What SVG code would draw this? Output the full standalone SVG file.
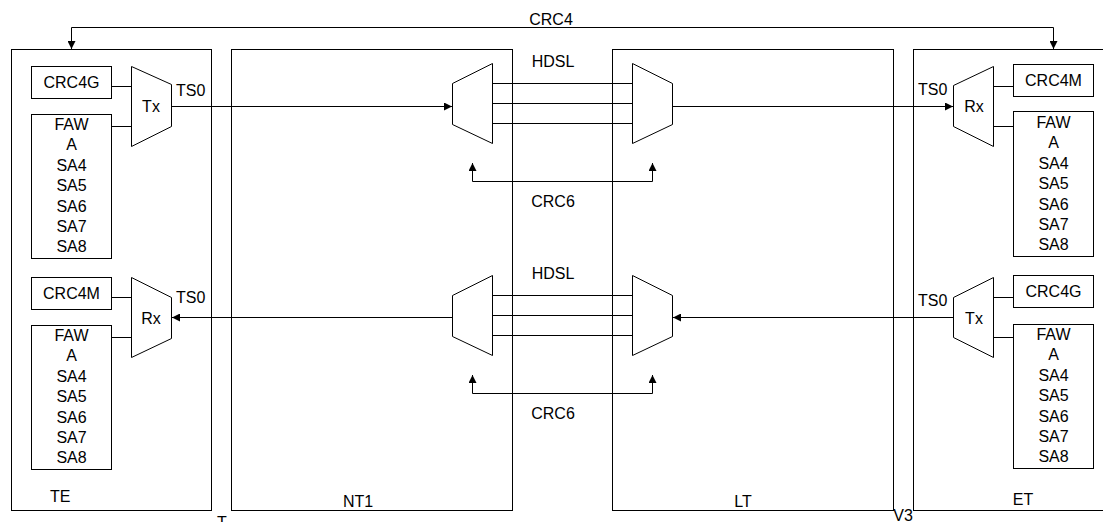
<svg xmlns="http://www.w3.org/2000/svg" width="1103" height="522" viewBox="0 0 1103 522">
<style>
.ln{fill:none;stroke:#000;stroke-width:1}
.bx{fill:#fff;stroke:#000;stroke-width:1}
.t{font-family:"Liberation Sans",Arial,sans-serif;font-size:16px;fill:#000}
.m{text-anchor:middle}
</style>
<defs>
<marker id="ah" viewBox="0 0 10 10" refX="10" refY="5" markerUnits="userSpaceOnUse" markerWidth="9" markerHeight="8" orient="auto-start-reverse">
<path d="M0,0 L10,5 L0,10 z" fill="#000"/>
</marker>
</defs>
<rect width="1103" height="522" fill="#fff"/>

<g id="TE">
<rect class="ln" x="11.5" y="49.5" width="200" height="461"/>
<text class="t" x="50" y="502">TE</text>
</g>
<g id="NT1">
<rect class="ln" x="231.5" y="49.5" width="281" height="461"/>
<text class="t m" x="358" y="507">NT1</text>
</g>
<g id="LT">
<rect class="ln" x="612.5" y="49.5" width="281" height="461"/>
<text class="t m" x="743" y="507">LT</text>
</g>
<g id="ET">
<rect class="ln" x="913.5" y="49.5" width="220" height="461"/>
<text class="t m" x="1023" y="505">ET</text>
</g>
<text class="t m" x="222" y="528">T</text>
<text class="t m" x="903" y="521">V3</text>

<g id="connectors">
<path class="ln" d="M71.5,27.5 H1053.5" />
<path class="ln" d="M71.5,27.5 V49" marker-end="url(#ah)"/>
<path class="ln" d="M1053.5,27.5 V49" marker-end="url(#ah)"/>
<text class="t m" x="551" y="25">CRC4</text>
<!-- top TE -->
<path class="ln" d="M111.5,86.5 H132"/>
<path class="ln" d="M111.5,126.5 H132"/>
<path class="ln" d="M171.5,106.5 H452" marker-end="url(#ah)"/>
<text class="t" x="176" y="96">TS0</text>
<!-- HDSL upper -->
<path class="ln" d="M492.5,83.5 H632.5 M492.5,103.5 H632.5 M492.5,123.5 H632.5"/>
<path class="ln" d="M672.5,106.5 H953" marker-end="url(#ah)"/>
<path class="ln" d="M472.5,163 V181.5 H652.5 V163" marker-start="url(#ah)" marker-end="url(#ah)"/>
<!-- ET upper -->
<path class="ln" d="M993.5,86.5 H1013.5"/>
<path class="ln" d="M993.5,126.5 H1013.5"/>
<text class="t" x="918" y="95">TS0</text>
<!-- lower -->
<path class="ln" d="M111.5,297.5 H132"/>
<path class="ln" d="M111.5,337.5 H132"/>
<path class="ln" d="M452.5,317.5 H172" marker-end="url(#ah)"/>
<text class="t" x="176" y="303">TS0</text>
<path class="ln" d="M492.5,295.5 H632.5 M492.5,315.5 H632.5 M492.5,335.5 H632.5"/>
<path class="ln" d="M953,317.5 H673" marker-end="url(#ah)"/>
<path class="ln" d="M472.5,375 V393.5 H652.5 V375" marker-start="url(#ah)" marker-end="url(#ah)"/>
<path class="ln" d="M993.5,297.5 H1013.5"/>
<path class="ln" d="M993.5,337.5 H1013.5"/>
<text class="t" x="918" y="306">TS0</text>
<text class="t m" x="553" y="67">HDSL</text>
<text class="t m" x="553" y="207">CRC6</text>
<text class="t m" x="553" y="279">HDSL</text>
<text class="t m" x="553" y="419">CRC6</text>
</g>

<g id="TE-CRC4G">
<rect class="bx" x="31.5" y="66.5" width="80" height="32"/>
<text class="t m" x="71.5" y="88">CRC4G</text>
</g>
<g id="TE-FAW1">
<rect class="bx" x="31.5" y="114.5" width="80" height="144"/>
<text class="t m" x="71.5" y="130"><tspan x="71.5">FAW</tspan><tspan x="71.5" dy="20.4">A</tspan><tspan x="71.5" dy="20.4">SA4</tspan><tspan x="71.5" dy="20.4">SA5</tspan><tspan x="71.5" dy="20.4">SA6</tspan><tspan x="71.5" dy="20.4">SA7</tspan><tspan x="71.5" dy="20.4">SA8</tspan></text>
</g>
<g id="TE-Tx">
<path class="bx" d="M131.5,66.5 L171.5,84.5 V126.5 L131.5,146.5 z"/>
<text class="t m" x="151" y="112">Tx</text>
</g>
<g id="TE-CRC4M">
<rect class="bx" x="31.5" y="277.5" width="80" height="32"/>
<text class="t m" x="71.5" y="299">CRC4M</text>
</g>
<g id="TE-FAW2">
<rect class="bx" x="31.5" y="325.5" width="80" height="144"/>
<text class="t m" x="71.5" y="341"><tspan x="71.5">FAW</tspan><tspan x="71.5" dy="20.4">A</tspan><tspan x="71.5" dy="20.4">SA4</tspan><tspan x="71.5" dy="20.4">SA5</tspan><tspan x="71.5" dy="20.4">SA6</tspan><tspan x="71.5" dy="20.4">SA7</tspan><tspan x="71.5" dy="20.4">SA8</tspan></text>
</g>
<g id="TE-Rx">
<path class="bx" d="M131.5,277.5 L171.5,297.5 V338.5 L131.5,357.5 z"/>
<text class="t m" x="151" y="324">Rx</text>
</g>

<g id="NT1-mux1">
<path class="bx" d="M452.5,83.5 L492.5,63.5 V143.5 L452.5,124.5 z"/>
</g>
<g id="LT-mux1">
<path class="bx" d="M632.5,63.5 L672.5,83.5 V124.5 L632.5,143.5 z"/>
</g>
<g id="NT1-mux2">
<path class="bx" d="M452.5,295.5 L492.5,275.5 V355.5 L452.5,336.5 z"/>
</g>
<g id="LT-mux2">
<path class="bx" d="M632.5,275.5 L672.5,295.5 V336.5 L632.5,355.5 z"/>
</g>

<g id="ET-Rx">
<path class="bx" d="M953.5,85.5 L993.5,66.5 V146.5 L953.5,126.5 z"/>
<text class="t m" x="974" y="112">Rx</text>
</g>
<g id="ET-CRC4M">
<rect class="bx" x="1013.5" y="64.5" width="80" height="32"/>
<text class="t m" x="1053.5" y="86">CRC4M</text>
</g>
<g id="ET-FAW1">
<rect class="bx" x="1013.5" y="111.5" width="80" height="145"/>
<text class="t m" x="1053.5" y="128"><tspan x="1053.5">FAW</tspan><tspan x="1053.5" dy="20.4">A</tspan><tspan x="1053.5" dy="20.4">SA4</tspan><tspan x="1053.5" dy="20.4">SA5</tspan><tspan x="1053.5" dy="20.4">SA6</tspan><tspan x="1053.5" dy="20.4">SA7</tspan><tspan x="1053.5" dy="20.4">SA8</tspan></text>
</g>
<g id="ET-Tx">
<path class="bx" d="M953.5,297.5 L993.5,277.5 V357.5 L953.5,337.5 z"/>
<text class="t m" x="974" y="324">Tx</text>
</g>
<g id="ET-CRC4G">
<rect class="bx" x="1013.5" y="275.5" width="80" height="32"/>
<text class="t m" x="1053.5" y="297">CRC4G</text>
</g>
<g id="ET-FAW2">
<rect class="bx" x="1013.5" y="324.5" width="80" height="144"/>
<text class="t m" x="1053.5" y="340"><tspan x="1053.5">FAW</tspan><tspan x="1053.5" dy="20.4">A</tspan><tspan x="1053.5" dy="20.4">SA4</tspan><tspan x="1053.5" dy="20.4">SA5</tspan><tspan x="1053.5" dy="20.4">SA6</tspan><tspan x="1053.5" dy="20.4">SA7</tspan><tspan x="1053.5" dy="20.4">SA8</tspan></text>
</g>
</svg>
